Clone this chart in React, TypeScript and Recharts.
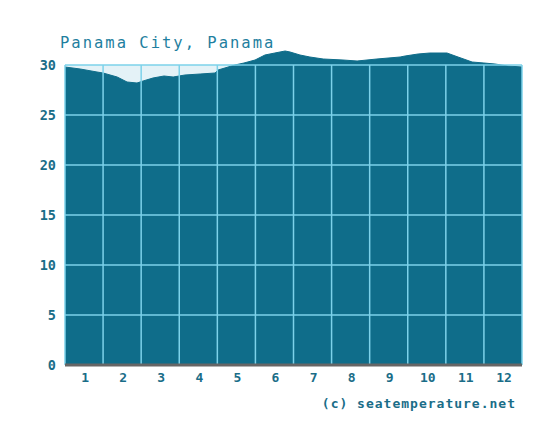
import React from 'react';
import { AreaChart, Area, XAxis, YAxis, ReferenceArea, ReferenceLine } from 'recharts';

// month position (1 = centre of January) and sea temperature
const monthPos = [
  0.5, 0.9, 1.34, 1.5, 1.87, 2.13, 2.39, 2.55, 2.81, 3.1, 3.34, 3.65, 4.05, 4.44,
  4.52, 4.96, 5.2, 5.49, 5.75, 6.01, 6.28, 6.41, 6.67, 6.93, 7.28, 7.8, 8.17,
  8.69, 9.3, 9.43, 9.77, 10.08, 10.53, 10.82, 11.19, 11.5, 11.79, 12.13, 12.5,
];
const temps = [
  29.8, 29.6, 29.3, 29.2, 28.8, 28.3, 28.2, 28.4, 28.7, 28.9, 28.8, 29.0, 29.1, 29.2,
  29.5, 30.0, 30.2, 30.5, 31.0, 31.2, 31.4, 31.3, 31.0, 30.8, 30.6, 30.5, 30.4,
  30.6, 30.8, 30.9, 31.1, 31.2, 31.2, 30.8, 30.3, 30.2, 30.1, 29.9, 29.8,
];

const monthTicks = [1, 2, 3, 4, 5, 6, 7, 8, 9, 10, 11, 12];
const monthEdges = [1.5, 2.5, 3.5, 4.5, 5.5, 6.5, 7.5, 8.5, 9.5, 10.5, 11.5, 12.5];
const tempTicks = [0, 5, 10, 15, 20, 25, 30];

const data = monthPos.map((m, i) => ({ m, t: temps[i] }));

const GRID = '#7dd2ea';
const DARK = '#0f6d8a';
const TEXT = '#1a6d88';
const FONT = '"DejaVu Sans Mono", monospace';

const App: React.FC = () => {
  return (
    <div style={{ position: 'absolute', left: 0, top: 0, width: 551, height: 436, background: '#fff' }}>
      <div
        style={{
          position: 'absolute', left: 60, top: 34, fontFamily: FONT, fontSize: 15.5,
          letterSpacing: 2, color: '#1f7fa0', whiteSpace: 'nowrap',
        }}
      >
        Panama City, Panama
      </div>
      <AreaChart
        width={551}
        height={436}
        data={data}
        margin={{ top: 50, right: 29, left: 0, bottom: 41 }}
      >
        <XAxis
          dataKey="m"
          type="number"
          domain={[0.5, 12.5]}
          ticks={monthTicks}
          height={30}
          tickLine={false}
          axisLine={{ stroke: '#666', strokeWidth: 3 }}
          tick={{ fill: TEXT, fontSize: 13, fontWeight: 'bold', fontFamily: FONT, dx: 1 }}
          tickMargin={2}
        />
        <YAxis
          type="number"
          domain={[0, 31.5]}
          ticks={tempTicks}
          width={65}
          tickLine={false}
          axisLine={false}
          tick={{ fill: TEXT, fontSize: 13.5, fontWeight: 'bold', fontFamily: FONT }}
          tickMargin={3}
        />
        <ReferenceArea x1={0.5} x2={12.5} y1={0} y2={30} fill="#e4f2f7" fillOpacity={1} stroke="none" />
        <Area
          type="linear"
          dataKey="t"
          stroke={DARK}
          strokeWidth={1}
          fill={DARK}
          fillOpacity={1}
          isAnimationActive={false}
          dot={false}
          activeDot={false}
        />
        {tempTicks.slice(1).map((v) => (
          <ReferenceLine key={`h${v}`} y={v} stroke={GRID} strokeWidth={1.5} />
        ))}
        {[0.5, ...monthEdges].map((v) => (
          <ReferenceLine
            key={`v${v}`}
            segment={[{ x: v, y: 0 }, { x: v, y: 30 }]}
            stroke={GRID}
            strokeWidth={1.5}
          />
        ))}
      </AreaChart>
      <div
        style={{
          position: 'absolute', right: 35, top: 396, fontFamily: FONT, fontSize: 13,
          fontWeight: 'bold', letterSpacing: 1, color: TEXT, whiteSpace: 'nowrap',
        }}
      >
        (c) seatemperature.net
      </div>
    </div>
  );
};

export default App;
